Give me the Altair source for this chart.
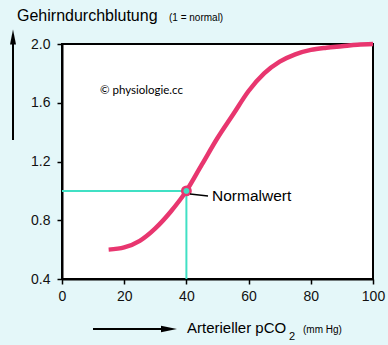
import altair as alt
import pandas as pd

# Data
pco2 = [15, 20, 25, 30, 35, 40, 45, 50, 55, 60, 65, 70, 75, 80, 85, 90, 95, 100]
flow = [0.60, 0.615, 0.66, 0.745, 0.86, 1.0, 1.18, 1.36, 1.52, 1.68, 1.80, 1.88, 1.93, 1.96, 1.975, 1.985, 1.995, 2.0]
normal_x = [40]
normal_y = [1.0]
x_ticks = [0, 20, 40, 60, 80, 100]
y_ticks = [0.4, 0.8, 1.2, 1.6, 2.0]

BG = "#e4f7f9"
PINK = "#e8366f"
CYAN = "#40e0c4"
FONT = "Liberation Sans"

W, H = 311, 235
PAD = {"left": 62, "top": 44, "right": 15, "bottom": 66}

curve_df = pd.DataFrame({"x": pco2, "y": flow})
norm_df = pd.DataFrame({"x": normal_x, "y": normal_y,
                        "x0": [x_ticks[0]], "y0": [y_ticks[0]]})
one = pd.DataFrame({"a": [0]})

xs = alt.Scale(domain=[0, 100], nice=False, zero=False)
ys = alt.Scale(domain=[0.4, 2.0], nice=False, zero=False)

xaxis = alt.Axis(values=x_ticks, title=None, grid=False, labelFont=FONT, labelFontSize=14,
                 labelColor="#111", tickColor="black", tickSize=5, tickWidth=1.5,
                 domainColor="black", domainWidth=2, labelPadding=5, labelFlush=False)
yaxis = alt.Axis(values=y_ticks, format=".1f", title=None, grid=False, labelFont=FONT,
                 labelFontSize=14, labelColor="#111", tickColor="black", tickSize=5,
                 tickWidth=1.5, domainColor="black", domainWidth=2, labelPadding=7,
                 labelFlush=False)

curve = alt.Chart(curve_df).mark_line(color=PINK, strokeWidth=4.5, interpolate="monotone").encode(
    x=alt.X("x:Q", scale=xs, axis=xaxis),
    y=alt.Y("y:Q", scale=ys, axis=yaxis),
)

hline = alt.Chart(norm_df).mark_rule(color=CYAN, strokeWidth=2).encode(
    x=alt.X("x0:Q", scale=xs), x2="x:Q", y=alt.Y("y:Q", scale=ys)
)
vline = alt.Chart(norm_df).mark_rule(color=CYAN, strokeWidth=2).encode(
    x=alt.X("x:Q", scale=xs), y=alt.Y("y0:Q", scale=ys), y2="y:Q"
)

marker = alt.Chart(norm_df).mark_point(filled=True, fill=CYAN, stroke=PINK, strokeWidth=2.5,
                                       size=70, opacity=1).encode(
    x=alt.X("x:Q", scale=xs), y=alt.Y("y:Q", scale=ys)
)

leader = alt.Chart(one).mark_rule(color="black", strokeWidth=1.3).encode(
    x=alt.value(128), x2=alt.value(146), y=alt.value(150), y2=alt.value(152)
)

def txt(s, x, y, size, font=FONT, color="black"):
    return alt.Chart(one).mark_text(text=s, align="left", baseline="alphabetic", font=font,
                                    fontSize=size, color=color).encode(
        x=alt.value(x), y=alt.value(y))

normal_label = txt("Normalwert", 150, 157, 15.5)
copyright = txt("© physiologie.cc", 38, 50, 11.5, font="Lato")
title1 = txt("Gehirndurchblutung", -45, -23, 16)
title2 = txt("(1 = normal)", 107, -23, 10)
xt1 = txt("Arterieller pCO", 125, 289, 15)
xt2 = txt("2", 227, 296, 11)
xt3 = txt("(mm Hg)", 241, 289, 10)

# arrows
up_shaft = alt.Chart(one).mark_rule(color="black", strokeWidth=2).encode(
    x=alt.value(-49), y=alt.value(96), y2=alt.value(-4)
)
up_head = alt.Chart(one).mark_point(shape="M-0.4,1 L0,-1 L0.4,1 Z", filled=True, color="black",
                                    size=225, opacity=1).encode(
    x=alt.value(-49), y=alt.value(-7)
)
r_shaft = alt.Chart(one).mark_rule(color="black", strokeWidth=2).encode(
    x=alt.value(31), x2=alt.value(103), y=alt.value(285)
)
r_head = alt.Chart(one).mark_point(shape="M1,0 L-1,-0.4 L-1,0.4 Z", filled=True, color="black",
                                   size=256, opacity=1).encode(
    x=alt.value(107), y=alt.value(285)
)

chart = alt.layer(
    hline, vline, curve, marker, leader, normal_label, copyright,
    title1, title2, xt1, xt2, xt3, up_shaft, up_head, r_shaft, r_head
).properties(
    width=W, height=H, padding=PAD, autosize=alt.AutoSizeParams(type="none"),
    background=BG
).configure_view(
    fill="white", stroke="black", strokeWidth=2
)

chart.save("out.html", embed_options={"renderer": "svg", "actions": False})
